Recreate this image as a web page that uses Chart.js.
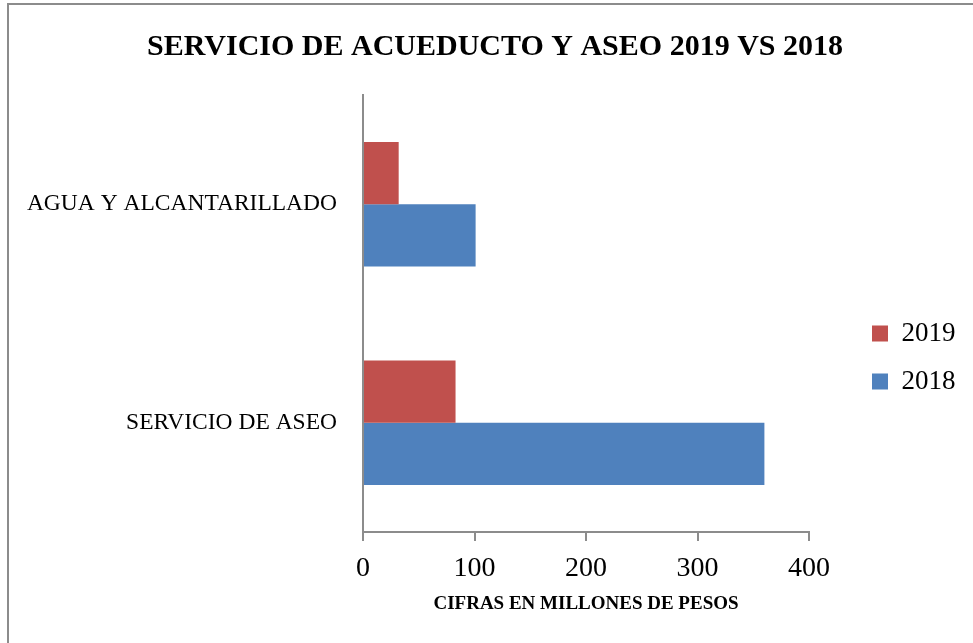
<!DOCTYPE html>
<html>
<head>
<meta charset="utf-8">
<script src="https://cdn.jsdelivr.net/npm/chart.js@4"></script>
<style>
  html, body { margin: 0; padding: 0; background: #fff; overflow: hidden; }
  #wrap { position: relative; width: 973px; height: 643px; }
  #frame { position: absolute; left: 7px; top: 3px; width: 2000px; height: 2000px;
           border: 2px solid #8c8c8c; box-sizing: border-box; }
  canvas { position: absolute; left: 0; top: 0; }
</style>
</head>
<body>
<div id="wrap">
  <div id="frame"></div>
  <canvas id="chart" width="973" height="643"></canvas>
</div>
<script>
const categories = ["AGUA Y ALCANTARILLADO", "SERVICIO DE ASEO"];
const values2019 = [32, 83];
const values2018 = [101, 360];
const xTicks = [0, 100, 200, 300, 400];

const serif = "'Liberation Serif', 'DejaVu Serif', serif";
const axisGray = '#8c8c8c';

Chart.defaults.font.family = serif;
Chart.defaults.color = '#000';

// legend sits right after the plot area, push it over to the right side
const legendNudge = {
    id: 'legendNudge',
    afterLayout(chart) {
        const lg = chart.legend;
        lg.left += 42;
        lg.right += 42;
    }
};

new Chart(document.getElementById('chart'), {
    type: 'bar',
    plugins: [legendNudge],
    data: {
        labels: categories,
        datasets: [
            {
                label: '2019',
                data: values2019,
                backgroundColor: '#C0504D',
                categoryPercentage: 0.57,
                barPercentage: 1.0
            },
            {
                label: '2018',
                data: values2018,
                backgroundColor: '#4F81BD',
                categoryPercentage: 0.57,
                barPercentage: 1.0
            }
        ]
    },
    options: {
        indexAxis: 'y',
        responsive: false,
        animation: false,
        layout: { padding: { left: 22, right: 5, top: 0, bottom: 0 } },
        plugins: {
            title: {
                display: true,
                text: 'SERVICIO DE ACUEDUCTO Y ASEO 2019 VS 2018',
                font: { size: 30, weight: 'bold' },
                color: '#000',
                padding: { top: 29, bottom: 30 }
            },
            legend: {
                position: 'right',
                // empty title only pushes the items down a little
                title: { display: true, text: '', font: { size: 10 }, padding: { top: 60, bottom: 0 } },
                labels: {
                    boxWidth: 16,
                    boxHeight: 16,
                    padding: 21,
                    font: { size: 27 },
                    color: '#000'
                }
            },
            tooltip: { enabled: false }
        },
        scales: {
            x: {
                min: 0,
                max: 400,
                afterBuildTicks: function(scale) {
                    scale.ticks = xTicks.map(v => ({ value: v }));
                },
                afterFit: function(scale) {
                    scale.height = 111;
                    scale.paddingRight = 164;
                },
                grid: {
                    display: true,
                    drawOnChartArea: false,
                    drawTicks: true,
                    tickLength: 9,
                    color: axisGray,
                    lineWidth: 2
                },
                border: { display: true, color: axisGray, width: 2 },
                ticks: { font: { size: 28 }, padding: 11, color: '#000' },
                title: {
                    display: true,
                    text: 'CIFRAS EN MILLONES DE PESOS',
                    font: { size: 19, weight: 'bold' },
                    color: '#000',
                    padding: { top: 0, bottom: 28 }
                }
            },
            y: {
                afterFit: function(scale) {
                    scale.width = 341;
                },
                grid: { display: false, drawTicks: false },
                border: { display: true, color: axisGray, width: 2 },
                ticks: { font: { size: 23.5 }, padding: 26, color: '#000' }
            }
        }
    }
});
</script>
</body>
</html>
